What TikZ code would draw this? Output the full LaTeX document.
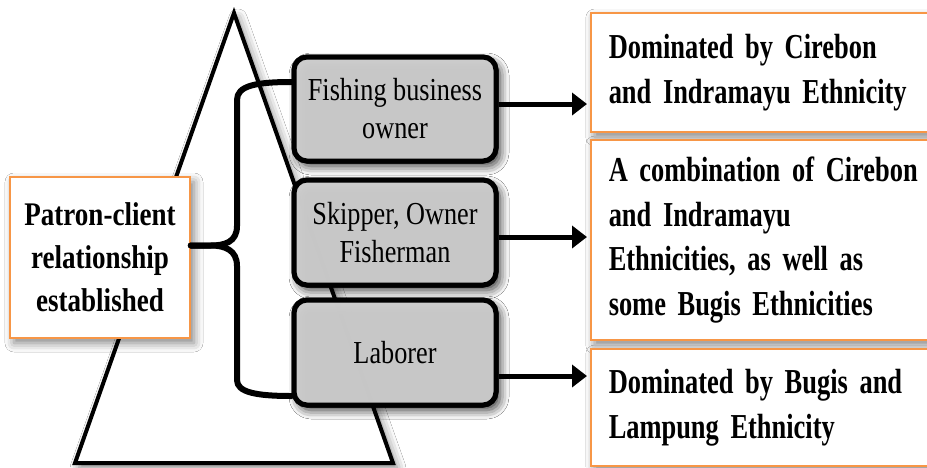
\documentclass[tikz,border=0pt]{standalone}
\usepackage{fontspec}
\setmainfont{Liberation Serif}
\newfontfamily\condA[FakeStretch=0.755]{Liberation Serif}
\newfontfamily\condB[FakeStretch=0.82]{Liberation Serif}
\usetikzlibrary{arrows.meta,shadows.blur,calc}
\definecolor{orng}{HTML}{F79646}
\definecolor{boxgray}{HTML}{CFCFCF}
\tikzset{
  tri/.style={draw=black,line width=4pt,fill=white,line join=miter},
  shad/.style={blur shadow={shadow xshift=4pt,shadow yshift=-5pt,shadow blur radius=9pt,shadow opacity=50}},
  patron/.style={draw=orng,line width=1.5pt,fill=white,minimum width=180pt,minimum height=161pt,
    font=\condB\bfseries\fontsize{33}{43}\selectfont,align=center,inner sep=0pt,shad},
  graybox/.style={draw=black,line width=5pt,fill=boxgray,fill opacity=0.92,text opacity=1,rounded corners=13pt,
    minimum width=202pt,inner sep=0pt,font=\condB\fontsize{32}{38}\selectfont,align=center,shad},
  ethbox/.style={draw=orng,line width=1.5pt,fill=white,text width=325pt,inner xsep=18pt,inner ysep=0pt,
    font=\condA\bfseries\fontsize{35}{44.5}\selectfont,align=left,shad},
  bracestyle/.style={draw=black,line width=6pt,line cap=round,line join=round},
  arr/.style={draw=black,line width=5pt,-{Triangle[length=15pt,width=22pt]}},
}
\begin{document}
\begin{tikzpicture}[x=1pt,y=-1pt]
\useasboundingbox (0,0) rectangle (927,467);
\fill[white] (0,0) rectangle (927,467);
% pyramid
\coordinate (apex) at (234,13);
\coordinate (bl) at (75,463);
\coordinate (br) at (393,463);
\path[tri,shad] (apex) -- (br) -- (bl) -- cycle;
% patron box
\node[patron] (pat) at (100,257.5) {Patron-client\\relationship\\established};
% gray boxes (shadows and fills)
\node[graybox,minimum height=104pt] (b1) at (395,109) {};
\node[graybox,minimum height=105pt] (b2) at (395,232.5) {};
\node[graybox,minimum height=105pt] (b3) at (395,352.5) {};
% brace
\coordinate (tipL) at ([yshift=12pt]pat.east);
\coordinate (btop) at ([yshift=27pt]b1.west);
\coordinate (bbot) at ([yshift=-43.5pt]b3.west);
\draw[bracestyle] (tipL) -- ++(20,0) .. controls +(14,0) and +(0,16) .. (237,226) -- (237,100)
  .. controls (237,86) and (255,82) .. (btop);
\draw[bracestyle] (tipL) -- ++(20,0) .. controls +(14,0) and +(0,-16) .. (237,266) -- (237,380)
  .. controls (237,392) and (255,396) .. (bbot);
% gray boxes over brace ends, with text
\node[graybox,minimum height=104pt] at (b1) {Fishing business\\owner};
\node[graybox,minimum height=105pt] at (b2) {Skipper, Owner\\Fisherman};
\node[graybox,minimum height=105pt] at (b3) {Laborer};
% ethnicity boxes
\node[ethbox,minimum height=119pt,anchor=west] (r1) at (590,72.5) {Dominated by Cirebon\\and Indramayu Ethnicity};
\node[ethbox,minimum height=200pt,anchor=west] (r2) at (590,240) {A combination of Cirebon\\and Indramayu\\Ethnicities, as well as\\some Bugis Ethnicities};
\node[ethbox,minimum height=117pt,anchor=west] (r3) at (590,407.5) {Dominated by Bugis and\\Lampung Ethnicity};
% arrows
\coordinate (a1) at ([yshift=5pt]b1.east);
\coordinate (a2) at ([yshift=-4.5pt]b2.east);
\coordinate (a3) at ([yshift=-23.5pt]b3.east);
\draw[arr,shorten >=3pt] (a1) -- (a1 -| r1.west);
\draw[arr,shorten >=3pt] (a2) -- (a2 -| r2.west);
\draw[arr,shorten >=3pt] (a3) -- (a3 -| r3.west);
\end{tikzpicture}
\end{document}
